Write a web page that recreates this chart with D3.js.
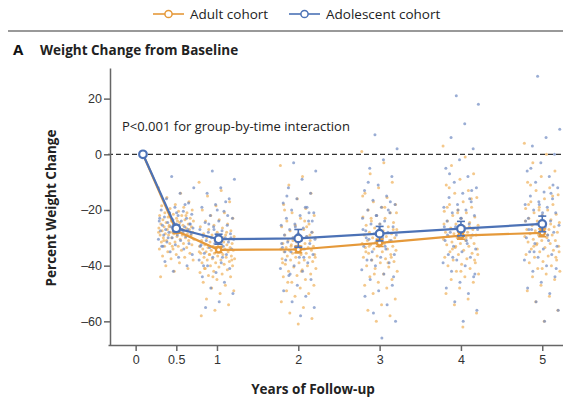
<!DOCTYPE html>
<html>
<head>
<meta charset="utf-8">
<script src="https://cdn.jsdelivr.net/npm/d3@7"></script>
<style>
  body { margin: 0; background: #fff; }
  svg { display: block; font-family: 'Open Sans', sans-serif; }
  .tick text { fill: #333; font-size: 12.5px; }
  .tick line, .domain { stroke: #666; }
</style>
</head>
<body>
<div class="graph-container"></div>
<script>
var svgWidth = 563;
var svgHeight = 402;

// follow-up times and group means
var times = [0, 0.5, 1, 2, 3, 4, 5];
var meanTimes = [0.09, 0.5, 1.02, 2, 3, 4, 5];
var adultMeans = [0, -27.5, -34.3, -34.2, -31.8, -29.2, -28.2];
var adultErr = [0, 0.8, 1.0, 1.2, 1.3, 1.3, 1.4];
var adolMeans = [0, -26.6, -30.5, -30.2, -28.5, -26.7, -25];
var adolErr = [0, 1.2, 1.8, 3.2, 2.6, 2.6, 2.8];

var xTicks = [0, 0.5, 1, 2, 3, 4, 5];
var yTicks = [-60, -40, -20, 0, 20];

// individual patients, adult cohort
var adult05 = [-12,-14,-15.5,-17,-18,-18.5,-19,-19.5,-20,-20.5,-21,-21,-21.5,-22,-22,-22.5,-23,-23,-23.5,-23.5,-24,-24,-24.5,-24.5,-25,-25,-25,-25.5,-25.5,-26,-26,-26,-26.5,-26.5,-26.5,-27,-27,-27,-27.5,-27.5,-27.5,-28,-28,-28,-28.5,-28.5,-28.5,-29,-29,-29,-29.5,-29.5,-30,-30,-30,-30.5,-30.5,-31,-31,-31.5,-31.5,-32,-32,-32.5,-33,-33,-33.5,-34,-34,-34.5,-35,-35.5,-36,-36.5,-37,-37.5,-38,-39,-40,-41,-42,-44,-27,-26,-29,-24,-31,-22,-33,-28];
var adult1 = [-10,-13,-15,-17,-18.5,-20,-21,-22,-23,-23.5,-24,-25,-25.5,-26,-26.5,-27,-27.5,-28,-28.5,-29,-29,-29.5,-30,-30,-30.5,-31,-31,-31.5,-31.5,-32,-32,-32.5,-32.5,-33,-33,-33,-33.5,-33.5,-34,-34,-34,-34.5,-34.5,-35,-35,-35,-35.5,-35.5,-36,-36,-36.5,-36.5,-37,-37,-37.5,-37.5,-38,-38,-38.5,-39,-39,-39.5,-40,-40,-40.5,-41,-41.5,-42,-42.5,-43,-43.5,-44,-45,-46,-47,-48,-49,-50,-52,-54,-56,-58,-30,-36,-38,-33,-41,-28,-44,-35];
var adult2 = [-4,-8,-11,-14,-16,-18,-19.5,-21,-22,-23,-24,-25,-25.5,-26,-27,-27.5,-28,-28.5,-29,-29.5,-30,-30,-30.5,-31,-31,-31.5,-32,-32,-32.5,-33,-33,-33.5,-33.5,-34,-34,-34,-34.5,-34.5,-35,-35,-35.5,-35.5,-36,-36,-36.5,-37,-37,-37.5,-38,-38,-38.5,-39,-39.5,-40,-40.5,-41,-41.5,-42,-43,-43.5,-44,-45,-46,-47,-48,-49,-50,-51,-53,-55,-57,-59,-61,-20,-26,-31,-37,-42,-46,-29,-35,-39,-24,-33];
var adult3 = [1,-3,-7,-10,-12,-14,-15.5,-17,-18,-19,-20,-21,-22,-22.5,-23,-24,-24.5,-25,-25.5,-26,-26.5,-27,-27.5,-28,-28.5,-29,-29,-29.5,-30,-30,-30.5,-31,-31,-31.5,-32,-32,-32.5,-33,-33,-33.5,-34,-34,-34.5,-35,-35.5,-36,-36.5,-37,-37.5,-38,-38.5,-39,-40,-40.5,-41,-42,-43,-44,-45,-46,-47,-48,-50,-52,-54,-56,-58,-60,-15,-19,-23,-27,-31,-35,-39,-43,-21,-28,-33,-37];
var adult4 = [3,-1,-4,-7,-9,-11,-13,-14,-15.5,-17,-18,-19,-20,-20.5,-21,-22,-22.5,-23,-24,-24.5,-25,-25.5,-26,-26.5,-27,-27.5,-28,-28,-28.5,-29,-29,-29.5,-30,-30,-30.5,-31,-31.5,-32,-32,-32.5,-33,-33.5,-34,-34.5,-35,-35.5,-36,-37,-37.5,-38,-39,-39.5,-40,-41,-42,-43,-44,-45,-46,-48,-50,-52,-54,-57,-62,-12,-16,-21,-25,-30,-34,-38,-42,-19,-26,-33,-36];
var adult5 = [4,0,-3,-6,-8,-10,-12,-13,-14.5,-16,-17,-18,-19,-19.5,-20,-21,-21.5,-22,-23,-23.5,-24,-24.5,-25,-25.5,-26,-26.5,-27,-27,-27.5,-28,-28,-28.5,-29,-29,-29.5,-30,-30.5,-31,-31,-31.5,-32,-32.5,-33,-33.5,-34,-34.5,-35,-36,-36.5,-37,-38,-38.5,-39,-40,-41,-42,-43,-44,-45,-47,-49,-51,-53,-56,-60,-11,-15,-20,-24,-29,-33,-37,-41,-18,-25,-32,-35];

// individual patients, adolescent cohort
var adol05 = [-8,-12,-14,-16,-17.5,-19,-20,-20.5,-21,-21.5,-22,-22.5,-23,-23.5,-24,-24,-24.5,-25,-25,-25.5,-26,-26,-26.5,-26.5,-27,-27,-27.5,-27.5,-28,-28,-28.5,-29,-29,-29.5,-30,-30.5,-31,-31.5,-32,-32.5,-33,-34,-35,-36,-37,-38.5,-40,-42,-23,-27,-30,-25,-21,-33,-18];
var adol1 = [-6,-9,-12,-14,-16,-18,-19,-20.5,-22,-23,-24,-24.5,-25.5,-26,-27,-27.5,-28,-28.5,-29,-29.5,-30,-30,-30.5,-31,-31,-31.5,-32,-32.5,-33,-33.5,-34,-35,-35.5,-36,-37,-38,-39,-40,-41,-42.5,-44,-46,-48,-50,-53,-55,-22,-27,-33,-37,-25,-30,-20,-40,-17];
var adol2 = [-3,-6,-9,-12,-14,-16,-17.5,-19,-20,-21,-22,-23,-24,-25,-25.5,-26.5,-27,-28,-28.5,-29,-29.5,-30,-30.5,-31,-31.5,-32,-33,-33.5,-34,-35,-36,-37,-38,-39,-40,-41,-42,-43.5,-45,-47,-49,-51,-53,-55,-58,-15,-21,-26,-32,-37,-43,-24,-30,-35,-19];
var adol3 = [7,2,-2,-5,-8,-11,-13,-15,-16.5,-18,-19,-20,-21,-22,-23,-24,-25,-26,-26.5,-27.5,-28,-28.5,-29,-30,-30.5,-31,-32,-33,-34,-35,-36,-37,-38,-39,-40,-41.5,-43,-45,-47,-49,-51,-54,-57,-60,-66,-10,-17,-22,-27,-33,-38,-44,-25,-30,-20];
var adol4 = [21,18,11,6,2,-2,-5,-8,-10,-12,-14,-15.5,-17,-18,-19,-20,-21,-22,-23,-24,-25,-26,-27,-27.5,-28,-29,-30,-31,-32,-33,-34,-35,-36,-37,-38,-39,-40,-42,-44,-46,-48,-50,-53,-56,-60,-7,-13,-20,-26,-31,-37,-43,-23,-29,-16];
var adol5 = [28,9,6,3,0,-3,-6,-8,-10,-12,-13.5,-15,-16,-17,-18,-19,-20,-21,-22,-23,-24,-25,-25.5,-26,-27,-28,-29,-30,-31,-32,-33,-34,-35,-36,-37,-38,-40,-42,-44,-46,-48,-50,-53,-56,-60,-5,-11,-18,-24,-29,-35,-41,-21,-27,-14];

var adultPoints = [adult05, adult1, adult2, adult3, adult4, adult5];
var adolPoints = [adol05, adol1, adol2, adol3, adol4, adol5];

var ORANGE = '#e5993a';
var BLUE = '#4c72b6';

var svg = d3.select('.graph-container').append('svg')
  .attr('width', svgWidth)
  .attr('height', svgHeight);

// scales
var xScale = d3.scaleLinear()
  .domain([-0.34, 5.255])
  .range([108, svgWidth]);

var yScale = d3.scaleLinear()
  .domain([-68.5, 31])
  .range([345, 68]);

// legend
var legend = [
  { label: 'Adult cohort', color: ORANGE, x: 153 },
  { label: 'Adolescent cohort', color: BLUE, x: 289 }
];
legend.forEach(function(l) {
  var g = svg.append('g').attr('transform', 'translate(' + l.x + ',14)');
  g.append('line').attr('x1', 0).attr('x2', 31).attr('y1', 0).attr('y2', 0)
    .attr('stroke', l.color).attr('stroke-width', 1.6);
  g.append('circle').attr('cx', 15.5).attr('cy', 0).attr('r', 3.6)
    .attr('fill', '#fff').attr('stroke', l.color).attr('stroke-width', 1.5);
  g.append('text').attr('x', 37).attr('y', 4.5)
    .style('font-size', '13.5px').style('fill', '#222')
    .text(l.label);
});

// separator rule
svg.append('line')
  .attr('x1', 8).attr('x2', svgWidth)
  .attr('y1', 31).attr('y2', 31)
  .attr('stroke', '#999').attr('stroke-width', 2);

// panel title
svg.append('text')
  .attr('x', 13).attr('y', 55)
  .style('font-size', '15px').style('font-weight', 'bold').style('fill', '#111')
  .text('A');
svg.append('text')
  .attr('x', 40).attr('y', 55)
  .style('font-size', '13.5px').style('font-weight', 'bold').style('fill', '#222')
  .text('Weight Change from Baseline');

// jittered patient dots
function drawDots(groups, color, phase) {
  groups.forEach(function(vals, k) {
    var t = times[k + 1];
    svg.append('g').selectAll('circle')
      .data(vals)
      .enter()
      .append('circle')
      .attr('cx', function(d, i) {
        var f = (i * 0.618034 + phase) % 1;
        return xScale(t + (f - 0.5) * 0.44);
      })
      .attr('cy', function(d) { return yScale(d); })
      .attr('r', 1.5)
      .attr('fill', color)
      .attr('opacity', 0.7);
  });
}
drawDots(adultPoints, '#f0b05a', 0.0);
drawDots(adolPoints, '#6f8ac2', 0.37);

// zero reference line
svg.append('line')
  .attr('x1', xScale(-0.34)).attr('x2', svgWidth)
  .attr('y1', yScale(0)).attr('y2', yScale(0))
  .attr('stroke', '#333').attr('stroke-width', 1.2)
  .attr('stroke-dasharray', '5,3');

// mean lines, error bars, markers
function drawSeries(means, errs, color, r) {
  var line = d3.line()
    .x(function(d, i) { return xScale(meanTimes[i]); })
    .y(function(d) { return yScale(d); });
  svg.append('path')
    .datum(means)
    .attr('d', line)
    .attr('fill', 'none')
    .attr('stroke', color)
    .attr('stroke-width', 2.2);

  var bars = svg.append('g');
  means.forEach(function(m, i) {
    if (!errs[i]) return;
    var cx = xScale(meanTimes[i]);
    var y1 = yScale(m + errs[i]), y2 = yScale(m - errs[i]);
    bars.append('line').attr('x1', cx).attr('x2', cx).attr('y1', y1).attr('y2', y2)
      .attr('stroke', color).attr('stroke-width', 1.6);
    [y1, y2].forEach(function(yy) {
      bars.append('line').attr('x1', cx - 4).attr('x2', cx + 4).attr('y1', yy).attr('y2', yy)
        .attr('stroke', color).attr('stroke-width', 1.6);
    });
  });

  svg.append('g').selectAll('circle')
    .data(means)
    .enter()
    .append('circle')
    .attr('cx', function(d, i) { return xScale(meanTimes[i]); })
    .attr('cy', function(d) { return yScale(d); })
    .attr('r', r)
    .attr('fill', '#fff')
    .attr('stroke', color)
    .attr('stroke-width', 2.2);
}
drawSeries(adultMeans, adultErr, ORANGE, 2.6);
drawSeries(adolMeans, adolErr, BLUE, 3.8);

// axes
var xAxis = d3.axisBottom(xScale)
  .tickValues(xTicks)
  .tickSizeInner(6)
  .tickSizeOuter(0)
  .tickPadding(4)
  .tickFormat(d3.format('~g'));
svg.append('g')
  .attr('transform', 'translate(0,345)')
  .call(xAxis)
  .call(function(g) { g.selectAll('.domain, .tick line').attr('stroke-width', 1.5); });

var yAxis = d3.axisLeft(yScale)
  .tickValues(yTicks)
  .tickSizeInner(6)
  .tickSizeOuter(0)
  .tickPadding(2)
  .tickFormat(function(d) { return d < 0 ? '\u2013' + Math.abs(d) : d; });
svg.append('g')
  .attr('transform', 'translate(110,0)')
  .call(yAxis)
  .call(function(g) { g.selectAll('.domain, .tick line').attr('stroke-width', 1.5); });

// annotation
svg.append('text')
  .attr('x', 122).attr('y', 131)
  .style('font-size', '13px').style('fill', '#222')
  .text('P<0.001 for group-by-time interaction');

// axis labels
svg.append('text')
  .attr('x', 313).attr('y', 394)
  .style('text-anchor', 'middle')
  .style('font-size', '13.5px').style('font-weight', 'bold').style('fill', '#222')
  .text('Years of Follow-up');

svg.append('text')
  .attr('transform', 'translate(56,208) rotate(-90)')
  .style('text-anchor', 'middle')
  .style('font-size', '13.5px').style('font-weight', 'bold').style('fill', '#222')
  .text('Percent Weight Change');
</script>
</body>
</html>
